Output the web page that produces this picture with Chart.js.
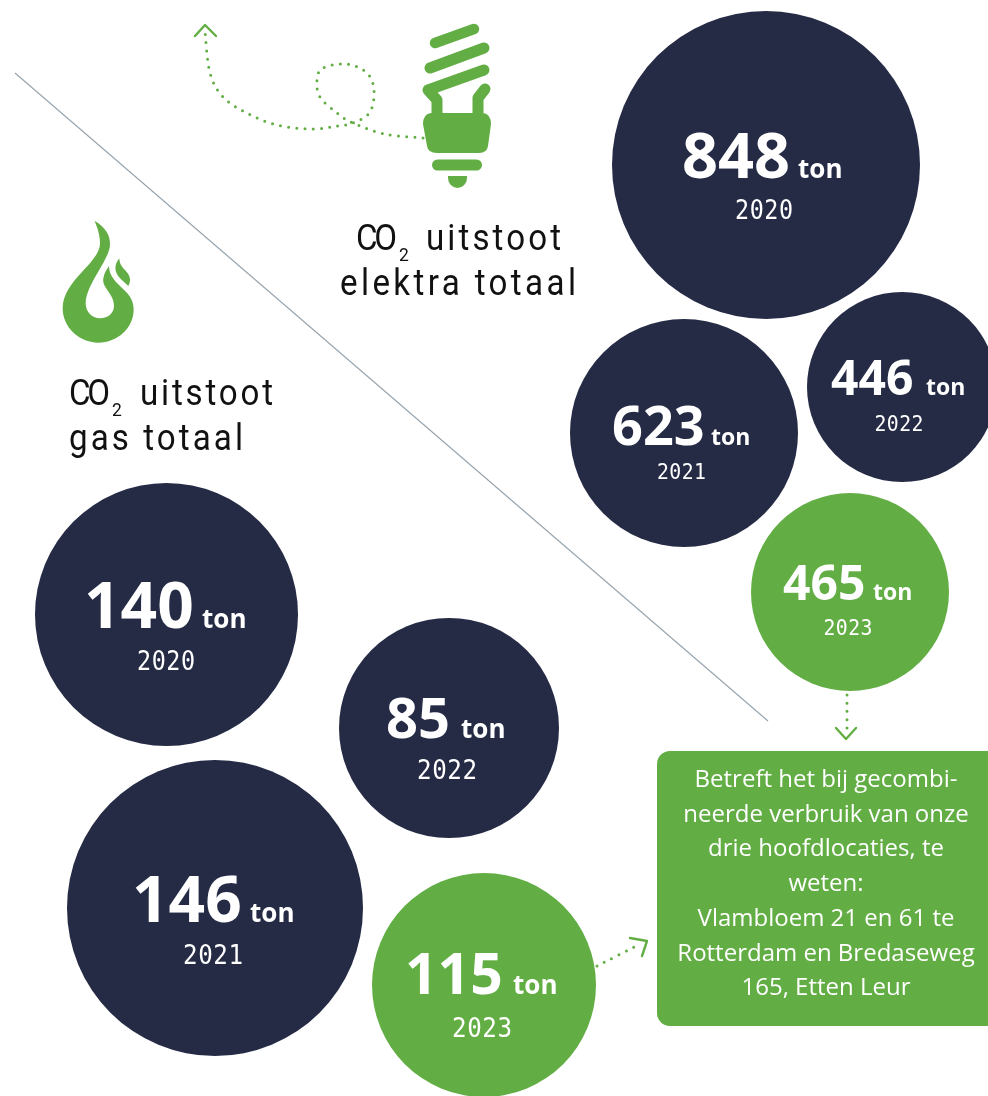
<!DOCTYPE html>
<html><head><meta charset="utf-8">
<style>html,body{margin:0;padding:0;background:#fff}canvas{display:block}</style>
<script src="https://cdn.jsdelivr.net/npm/chart.js@4"></script>
</head><body>
<canvas id="c" width="988" height="1096"></canvas>
<script>
// data
const elektraYears = ['2020','2021','2022','2023'];
const elektraValues = [848,623,446,465];
const gasYears = ['2020','2021','2022','2023'];
const gasValues = [140,146,85,115];
const unit = 'ton';
const noteLines = ['Betreft het bij gecombi-','neerde verbruik van onze','drie hoofdlocaties, te','weten:','Vlambloem 21 en 61 te','Rotterdam en Bredaseweg','165, Etten Leur'];
// bubble placement (as laid out in the picture)
const elektraX = [766,684,902,850], elektraY = [165,433,387,592], elektraR = [154,114,95,99];
const gasX = [166.5,215,449,484], gasY = [614.5,908,728,985], gasR = [131.5,148,110,112];
// label layout: number left, baseline, number size, ton left, ton size, year centre, year baseline, year width
const elektraLabels = [[682,178,63,798,26,764,219,58],[612,445,54,711,23,681.5,479,49],[831,395,48,926,23,899,431,49],[783,600,48,873,23,848,635,49]];
const gasLabels = [[84,628,64,202,26,166,670,58],[132,922,64,250,26,213,964,60],[386,738,56,461,26,447,779,60],[405,994,57,513,26,482,1037,60]];
const NAVY='#252a45', GREEN='#62ae44';

function bubbleData(xs,ys,rs){return xs.map((x,i)=>({x,y:ys[i],r:rs[i]}));}
function colours(years){return years.map(y=>y==='2023'?GREEN:NAVY);}

function fit(ctx,text,x,base,width,font,color,sx=1){
  ctx.save();ctx.font=font;ctx.fillStyle=color;ctx.textAlign='left';ctx.textBaseline='alphabetic';
  ctx.letterSpacing='0px';
  const w=ctx.measureText(text).width;
  ctx.letterSpacing=((width/sx-w)/Math.max(1,text.length-1)).toFixed(2)+'px';
  ctx.translate(x,base);ctx.scale(sx,1);
  ctx.fillText(text,0,0);ctx.restore();
}
function smooth(ctx,p){
  ctx.moveTo(p[0][0],p[0][1]);
  for(let i=0;i<p.length-1;i++){
    const a=p[Math.max(0,i-1)],b=p[i],c=p[i+1],d=p[Math.min(p.length-1,i+2)];
    ctx.bezierCurveTo(b[0]+(c[0]-a[0])/6,b[1]+(c[1]-a[1])/6,c[0]-(d[0]-b[0])/6,c[1]-(d[1]-b[1])/6,c[0],c[1]);
  }
}
function poly(ctx,p,w,color){
  ctx.save();ctx.strokeStyle=color;ctx.lineWidth=w;ctx.lineCap='round';ctx.lineJoin='round';
  ctx.beginPath();p.forEach((q,i)=>i?ctx.lineTo(q[0],q[1]):ctx.moveTo(q[0],q[1]));ctx.stroke();ctx.restore();
}
function dots(ctx,p){
  ctx.save();ctx.strokeStyle=GREEN;ctx.lineWidth=3;ctx.lineCap='round';ctx.setLineDash([0,8.2]);
  ctx.beginPath();smooth(ctx,p);ctx.stroke();ctx.restore();
}

const backdrop={id:'backdrop',beforeDatasetsDraw(chart){
  const c=chart.ctx;
  // divider
  c.save();c.strokeStyle='#95a2ac';c.lineWidth=1.1;c.beginPath();c.moveTo(15,73);c.lineTo(768,721);c.stroke();c.restore();
  // note box
  c.save();c.fillStyle=GREEN;c.beginPath();c.roundRect(657,751,345,275,13);c.fill();
  c.font='400 24px "Open Sans"';c.fillStyle='#fff';c.textAlign='center';
  noteLines.forEach((t,i)=>c.fillText(t,826,787+i*34.7));c.restore();
  // bulb
  poly(c,[[435,43],[474,29]],10.5,GREEN);
  poly(c,[[430,68],[484,48]],11,GREEN);
  poly(c,[[484,70],[428,90],[437,100],[437,116]],11,GREEN);
  poly(c,[[485,89],[478,98],[478,116]],11,GREEN);
  poly(c,[[437.5,165],[476.5,165]],11,GREEN);
  c.save();c.fillStyle=GREEN;
  c.fill(new Path2D('M431,113 L483,113 Q491,114 491,124 L488,146 Q487,153 479,153 L437,153 Q428,153 427,146 L423,124 Q423,114 431,113 Z'));
  c.fill(new Path2D('M448,176 L467,176 L467,178 A9.5,10 0 0 1 448,178 Z'));
  // flame
  c.translate(40,210);c.scale(1/3,1/3);
  c.fill(new Path2D('M163,32 C195,50 212,75 210,105 C208,150 137,225 137,280 C137,308 158,325 180,325 C205,325 222,308 222,288 C222,250 185,235 190,205 C192,190 200,178 207,168 C207,205 240,225 262,250 C275,265 281,280 281,298 C281,355 232,398 175,398 C115,398 68,350 68,295 C68,210 180,160 180,100 C180,75 172,50 163,32 Z'));
  c.fill(new Path2D('M238,145 C222,165 222,185 240,205 L265,228 C275,210 270,195 255,180 C245,170 238,160 238,145 Z'));
  c.restore();
  // dotted arrows
  dots(c,[[423,138],[385,134],[353,123],[337,113],[320,97],[317,80],[323,68],[347,64],[367,73],[374,90],[370,112],[353,123],[337,126],[312,129],[277,125],[247,113],[223,97],[210,73],[205,32]]);
  poly(c,[[195,36],[205,25],[216,36]],2.4,GREEN);
  dots(c,[[847,695],[847,733]]);
  poly(c,[[836,728],[846,739],[856,728]],2.4,GREEN);
  dots(c,[[597,966],[640,944]]);
  poly(c,[[630,938],[647,941],[642,956]],2.4,GREEN);
  // headings
  const hf='400 36px Roboto', sf='400 19px Roboto', ink='#111', sx=0.92;
  fit(c,'CO',356,250,41,hf,ink,sx);fit(c,'2',399,261,10,sf,ink,sx);fit(c,'uitstoot',426,250,135,hf,ink,sx);
  fit(c,'elektra totaal',340,295,236,hf,ink,sx);
  fit(c,'CO',69,405,41,hf,ink,sx);fit(c,'2',112,416,10,sf,ink,sx);fit(c,'uitstoot',140,405,133,hf,ink,sx);
  fit(c,'gas totaal',69,450,174,hf,ink,sx);
}};
const labels={id:'labels',afterDatasetsDraw(chart){
  const c=chart.ctx;
  const draw=(vals,yrs,lay)=>vals.forEach((v,i)=>{
    const [nx,nb,ns,tx,ts,yc,yb,yw]=lay[i];
    c.save();c.fillStyle='#fff';c.textAlign='left';
    c.font=`700 ${ns}px "Open Sans"`;c.fillText(String(v),nx,nb);
    c.font=`700 ${ts}px "Open Sans"`;c.fillText(unit,tx,nb);
    c.restore();
    fit(c,yrs[i],yc-yw/2,yb,yw,`400 ${(26*yw/58).toFixed(1)}px "DejaVu Sans Mono"`,'#fff',0.9);
  });
  draw(elektraValues,elektraYears,elektraLabels);
  draw(gasValues,gasYears,gasLabels);
}};

new Chart(document.getElementById('c'),{
  type:'bubble',
  data:{datasets:[
    {label:'CO2 uitstoot elektra totaal',data:bubbleData(elektraX,elektraY,elektraR),backgroundColor:colours(elektraYears),borderWidth:0,hoverBorderWidth:0,clip:false},
    {label:'CO2 uitstoot gas totaal',data:bubbleData(gasX,gasY,gasR),backgroundColor:colours(gasYears),borderWidth:0,hoverBorderWidth:0,clip:false}
  ]},
  options:{responsive:false,animation:false,devicePixelRatio:1,
    layout:{padding:0,autoPadding:false},
    plugins:{legend:{display:false},tooltip:{enabled:false},title:{display:false}},
    scales:{x:{type:'linear',min:0,max:988,display:false},y:{type:'linear',min:0,max:1096,reverse:true,display:false}}
  },
  plugins:[backdrop,labels]
});
</script>
</body></html>
